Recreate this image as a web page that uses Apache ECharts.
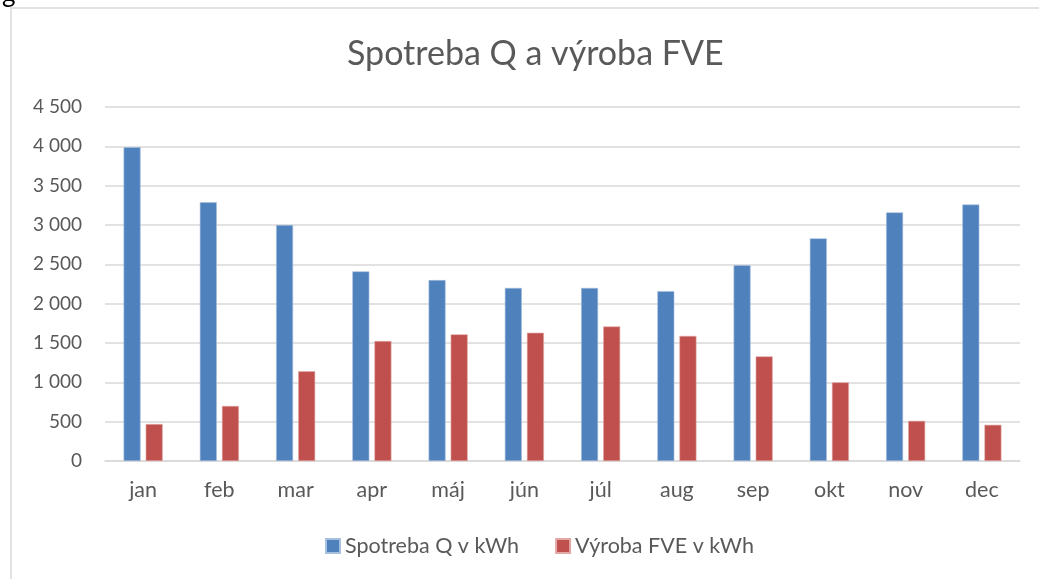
<!DOCTYPE html>
<html lang="sk">
<head>
    <meta charset="UTF-8">
    <title>Spotreba Q a výroba FVE</title>
    <script src="https://cdn.jsdelivr.net/npm/echarts@6/dist/echarts.min.js"></script>
    <style>
        html, body { margin: 0; padding: 0; background: #fff; }
    </style>
</head>
<body>
    <div id="main" style="width:1039px; height:579px"></div>
    <script type="text/javascript">
        // mesiace a hodnoty odčítané z grafu
        var mesiace = ['jan', 'feb', 'mar', 'apr', 'máj', 'jún', 'júl', 'aug', 'sep', 'okt', 'nov', 'dec'];
        var spotreba = [3990, 3290, 3000, 2410, 2300, 2200, 2200, 2160, 2490, 2830, 3160, 3260];
        var vyroba = [470, 700, 1140, 1525, 1610, 1630, 1710, 1590, 1330, 1000, 510, 460];
        var nazvy = ['Spotreba Q v kWh', 'Výroba FVE v kWh'];

        var font = 'Lato, "Open Sans", sans-serif';
        var chart = echarts.init(document.getElementById('main'));

        function formatCislo(v) {
            return String(v).replace(/\B(?=(\d{3})+(?!\d))/g, ' ');
        }

        var option = {
            animation: false,
            backgroundColor: '#fff',
            title: {
                text: 'Spotreba Q a výroba FVE',
                left: 342,
                top: 32,
                textStyle: { fontFamily: font, fontSize: 34, fontWeight: 'normal', color: '#595959' }
            },
            legend: {
                bottom: 17,
                left: 320,
                itemWidth: 14,
                itemHeight: 14,
                itemGap: 36,
                icon: 'rect',
                textStyle: { fontFamily: font, fontSize: 21.5, color: '#595959' },
                data: nazvy
            },
            graphic: [
                {
                    type: 'rect',
                    shape: { x: 11, y: 8, width: 1100, height: 700 },
                    style: { fill: 'none', stroke: '#d9d9d9', lineWidth: 1.5 }
                },
                {
                    type: 'text',
                    left: 2,
                    top: -19,
                    style: { text: 'g', fontFamily: font, fontSize: 26, fill: '#000' }
                }
            ],
            grid: { left: 105, right: 19, top: 107, bottom: 118 },
            xAxis: {
                type: 'category',
                data: mesiace,
                axisLine: { lineStyle: { color: '#d9d9d9', width: 1.5 } },
                axisTick: { show: false },
                axisLabel: { fontFamily: font, fontSize: 21.5, color: '#595959', margin: 18 }
            },
            yAxis: {
                type: 'value',
                min: 0,
                max: 4500,
                interval: 500,
                axisLine: { show: false },
                axisTick: { show: false },
                splitLine: { lineStyle: { color: '#d9d9d9', width: 1.5 } },
                axisLabel: {
                    fontFamily: font, fontSize: 19, color: '#595959', margin: 23,
                    formatter: formatCislo
                }
            },
            series: [
                {
                    name: nazvy[0],
                    type: 'bar',
                    data: spotreba,
                    barWidth: 17,
                    barGap: '30%',
                    itemStyle: { color: '#4f81bd', borderColor: '#a7c0de', borderWidth: 0.6 }
                },
                {
                    name: nazvy[1],
                    type: 'bar',
                    data: vyroba,
                    barWidth: 17,
                    itemStyle: { color: '#c0504d', borderColor: '#e0a8a6', borderWidth: 0.6 }
                }
            ]
        };

        chart.setOption(option);
    </script>
</body>
</html>
